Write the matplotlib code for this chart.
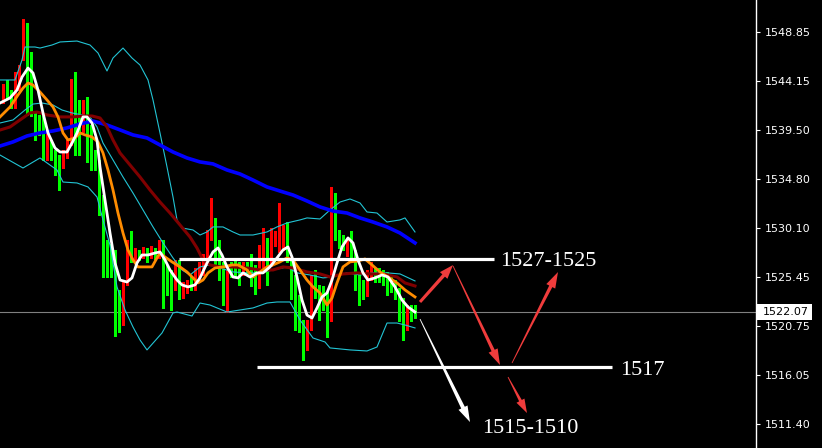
import numpy as np
import matplotlib.pyplot as plt
from matplotlib.patches import Polygon, Rectangle

# candles (price), red = up, green = down
opens = [1542.4, 1543.8, 1542.8, 1542.4, 1544.0, 1546.6, 1549.0, 1546.7, 1540.7, 1540.5,
         1540.0, 1536.9, 1537.6, 1537.1, 1536.6, 1536.2, 1537.1, 1538.5, 1542.9, 1541.9,
         1539.7, 1541.8, 1539.5, 1536.8, 1536.2, 1532.8, 1528.6, 1528.3, 1527.4, 1522.4,
         1521.8, 1525.0, 1528.7, 1527.3, 1527.7, 1527.5, 1527.7, 1527.5, 1527.7, 1527.5,
         1528.8, 1525.2, 1524.9, 1524.7, 1526.8, 1523.7, 1524.2, 1524.9, 1524.5, 1525.4,
         1525.9, 1527.3, 1529.3, 1530.1, 1527.4, 1525.9, 1524.2, 1526.4, 1526.2, 1526.3,
         1525.9, 1526.3, 1526.1, 1525.8, 1524.7, 1526.9, 1527.8, 1526.9, 1528.8, 1528.2,
         1528.5, 1529.9, 1526.9, 1524.9, 1523.0, 1520.6, 1518.8, 1520.7, 1525.4, 1523.9,
         1524.0, 1523.4, 1521.5, 1530.4, 1529.7, 1529.0, 1527.7, 1529.0, 1527.7, 1525.2,
         1524.7, 1523.9, 1525.5, 1525.8, 1525.7, 1525.6, 1525.4, 1525.2, 1524.9, 1523.9,
         1522.8, 1521.1, 1522.1, 1522.2]
highs = [1543.9, 1544.3, 1543.3, 1545.0, 1545.7, 1550.1, 1549.7, 1546.9, 1541.2, 1540.9,
         1541.1, 1539.5, 1538.5, 1537.6, 1537.1, 1537.6, 1538.5, 1544.4, 1545.0, 1542.4,
         1542.4, 1542.6, 1540.0, 1537.6, 1536.6, 1533.3, 1529.0, 1528.6, 1528.0, 1524.2,
         1525.2, 1529.0, 1529.8, 1528.2, 1528.0, 1528.3, 1528.2, 1528.4, 1528.2, 1529.0,
         1529.0, 1526.6, 1526.1, 1527.1, 1527.1, 1525.0, 1525.2, 1525.4, 1526.3, 1526.9,
         1527.6, 1529.9, 1533.0, 1531.1, 1529.0, 1526.9, 1526.1, 1526.9, 1527.1, 1526.9,
         1526.9, 1526.9, 1527.6, 1526.6, 1528.5, 1530.1, 1529.2, 1530.1, 1529.8, 1532.5,
         1530.4, 1530.7, 1527.3, 1525.6, 1523.7, 1521.3, 1521.3, 1525.6, 1526.1, 1524.7,
         1524.6, 1524.0, 1534.0, 1533.5, 1529.9, 1529.5, 1529.0, 1529.8, 1528.0, 1525.9,
         1525.2, 1526.1, 1526.9, 1526.3, 1526.3, 1526.1, 1525.9, 1525.6, 1525.2, 1524.4,
         1523.4, 1522.8, 1522.8, 1522.8]
lows = [1542.1, 1542.5, 1541.6, 1541.6, 1543.3, 1546.2, 1540.9, 1540.8, 1538.5, 1539.0,
        1536.6, 1536.6, 1536.6, 1535.2, 1533.8, 1535.9, 1536.8, 1538.1, 1537.1, 1537.1,
        1539.3, 1536.4, 1535.7, 1535.7, 1531.4, 1525.4, 1525.4, 1525.4, 1519.8, 1520.2,
        1520.9, 1524.7, 1526.9, 1526.9, 1527.1, 1527.3, 1526.9, 1527.3, 1527.2, 1527.3,
        1522.5, 1523.7, 1522.3, 1524.2, 1523.3, 1523.4, 1523.9, 1524.2, 1524.2, 1525.0,
        1525.6, 1526.9, 1529.0, 1526.3, 1525.2, 1522.8, 1522.1, 1525.4, 1525.4, 1524.7,
        1525.6, 1525.6, 1524.6, 1523.8, 1524.4, 1526.3, 1524.7, 1526.5, 1528.4, 1527.8,
        1528.0, 1526.9, 1523.3, 1520.4, 1520.2, 1517.5, 1518.5, 1520.4, 1523.4, 1521.3,
        1522.3, 1519.7, 1521.2, 1529.0, 1528.2, 1528.0, 1527.5, 1527.3, 1524.2, 1522.8,
        1523.3, 1523.6, 1525.2, 1525.0, 1525.0, 1524.7, 1523.7, 1524.0, 1523.3, 1521.2,
        1519.4, 1520.4, 1521.2, 1521.5]
closes = [1543.6, 1542.8, 1541.9, 1544.0, 1545.0, 1549.1, 1541.2, 1541.2, 1539.9, 1539.8,
          1536.9, 1539.0, 1537.0, 1536.2, 1536.2, 1537.1, 1538.3, 1542.9, 1541.4, 1540.3,
          1541.8, 1536.8, 1536.0, 1536.2, 1531.9, 1528.5, 1528.2, 1527.3, 1522.4, 1521.5,
          1525.0, 1528.7, 1527.3, 1527.7, 1527.4, 1527.8, 1527.5, 1527.8, 1527.5, 1528.8,
          1525.0, 1524.9, 1524.6, 1526.8, 1523.5, 1524.7, 1524.9, 1524.5, 1525.9, 1526.4,
          1527.3, 1529.5, 1530.2, 1526.8, 1526.4, 1523.3, 1525.2, 1525.9, 1525.9, 1525.5,
          1526.3, 1525.9, 1525.7, 1524.0, 1526.9, 1528.0, 1525.8, 1529.0, 1529.3, 1529.9,
          1529.9, 1527.1, 1524.7, 1523.0, 1520.6, 1518.8, 1520.9, 1525.4, 1523.9, 1523.3,
          1523.4, 1520.1, 1530.4, 1529.5, 1528.7, 1528.7, 1528.7, 1527.7, 1525.8, 1524.5,
          1524.4, 1525.6, 1526.3, 1525.5, 1525.4, 1525.2, 1524.7, 1524.4, 1523.9, 1522.6,
          1521.1, 1522.5, 1521.5, 1522.07]

# indicator lines (bar index, price)
white_x = [-0.75, 1.75, 3.5, 4.75, 6.25, 7.5, 8.75, 10, 11.25, 13, 14.25, 16, 17.25, 18.5, 20, 21,
           22.25, 23.5, 24.25, 25.5, 26.75, 28, 29.25, 31, 32.25, 33.5, 34.75, 36.25, 38, 39.25,
           40.5, 41.75, 43.5, 44.75, 46.25, 48, 49.25, 51, 52.5, 53.75, 54.75, 56, 57.5, 58.75,
           60, 61.75, 63.5, 65, 66.75, 68.5, 70, 71.25, 72.25, 73.5, 74.75, 76, 77.25, 78.5,
           79.75, 81, 82.25, 83.5, 84.75, 86.25, 87.5, 88.75, 90, 91.25, 93, 94.75, 96.25, 98,
           99.75, 101.25, 103]
white_y = [1542.07, 1542.55, 1543.31, 1544.55, 1545.41, 1544.94, 1543.31, 1541.12, 1539.21,
           1537.77, 1537.39, 1537.39, 1538.25, 1539.21, 1540.74, 1540.74, 1540.16, 1538.54,
           1535.96, 1532.80, 1529.65, 1526.79, 1525.16, 1524.97, 1525.36, 1526.79, 1527.55,
           1527.55, 1527.74, 1527.84, 1527.08, 1526.12, 1525.16, 1524.69, 1524.50, 1524.69,
           1525.36, 1526.79, 1527.84, 1528.22, 1527.55, 1526.41, 1525.45, 1525.36, 1525.84,
           1525.45, 1525.84, 1525.84, 1526.41, 1527.27, 1528.03, 1528.32, 1527.36, 1525.45,
           1523.25, 1521.81, 1521.53, 1522.49, 1523.54, 1523.92, 1525.16, 1526.79, 1528.32,
           1529.18, 1528.70, 1527.08, 1525.84, 1525.16, 1525.36, 1525.64, 1525.45, 1524.50,
           1523.25, 1522.58, 1522.10]
orange_x = [-0.75, 1.75, 3.75, 5, 6.25, 7.5, 9.25, 11, 12.5, 13.75, 15, 16.25, 18, 19.25, 20.5,
            22.25, 23.75, 25, 26.25, 27.5, 28.75, 30, 31.25, 32.5, 33.75, 36, 37.25, 38.5,
            39.25, 40.5, 42.25, 44.25, 46, 47.5, 48.75, 50, 51.25, 53, 55, 57.25, 58.75, 61,
            62.5, 64.25, 66, 67.5, 69.25, 71, 72.5, 74.25, 76, 77.5, 79.25, 81, 82.25, 83.5,
            85, 86.75, 88.75, 90.5, 92.25, 94.25, 96.25, 98.5, 100.5, 103]
orange_y = [1540.74, 1541.69, 1542.83, 1543.50, 1543.98, 1543.79, 1543.12, 1542.36, 1541.69,
            1540.74, 1539.21, 1538.54, 1538.73, 1539.21, 1539.02, 1538.83, 1538.35, 1537.30,
            1535.67, 1533.76, 1531.56, 1529.65, 1528.03, 1527.08, 1526.41, 1526.41, 1526.41,
            1527.27, 1527.74, 1527.36, 1526.89, 1526.41, 1525.93, 1525.36, 1524.88, 1525.16,
            1525.84, 1526.31, 1526.41, 1526.60, 1526.60, 1526.12, 1525.45, 1525.93, 1526.41,
            1526.60, 1526.89, 1527.27, 1527.08, 1526.12, 1525.16, 1524.50, 1523.92, 1522.77,
            1523.44, 1524.88, 1526.41, 1526.89, 1526.98, 1527.17, 1526.60, 1525.93, 1525.45,
            1524.88, 1524.21, 1523.54]
maroon_x = [-0.75, 1.75, 4.25, 6.75, 8.5, 11, 14.25, 17.5, 20, 22.25, 24.25, 26, 27.5, 29.25,
            31.75, 34.25, 36.75, 39.25, 41.75, 44.25, 46.75, 48.5, 50, 51.75, 54.25, 57.5, 61,
            64.25, 67.5, 70, 72.5, 76, 79.25, 81.75, 85, 88.5, 91.75, 95, 98.5, 100.5, 103]
maroon_y = [1539.49, 1539.78, 1540.45, 1541.12, 1541.21, 1540.93, 1540.74, 1540.74, 1540.83,
            1540.83, 1540.64, 1539.78, 1538.54, 1537.30, 1536.15, 1535.00, 1533.76, 1532.61,
            1531.56, 1530.42, 1529.27, 1528.22, 1527.08, 1526.60, 1526.41, 1526.41, 1526.31,
            1526.12, 1526.12, 1526.41, 1526.31, 1525.93, 1525.74, 1525.45, 1525.74, 1525.84,
            1525.74, 1525.74, 1525.45, 1524.88, 1524.59]
blue_x = [-0.75, 2.5, 6, 9.25, 12.5, 16, 19.25, 22.5, 26, 29.25, 32.5, 36, 39.25, 42.5, 46,
          49.25, 52.5, 56, 59.25, 62.5, 66, 69.25, 72.5, 76, 79.25, 82.5, 86, 89.25, 92.5, 96,
          99.25, 103]
blue_y = [1537.96, 1538.35, 1538.92, 1539.21, 1539.40, 1539.69, 1540.07, 1540.35, 1539.97,
          1539.50, 1539.02, 1538.73, 1538.06, 1537.39, 1536.82, 1536.44, 1536.25, 1535.67,
          1535.29, 1534.71, 1534.05, 1533.66, 1533.28, 1532.71, 1532.14, 1531.75, 1531.56,
          1531.09, 1530.70, 1530.23, 1529.65, 1528.70]
upper_x = [-0.75, 3, 4.75, 5.5, 8, 9.25, 12.25, 14.25, 18.5, 21.75, 23.75, 26, 27.5, 30, 32.25,
           34.25, 36.25, 37.5, 39.25, 41, 42.5, 43.5, 44.75, 47.5, 49.25, 51, 52.5, 55, 57.5,
           59.25, 62.5, 66, 68.5, 71, 74.25, 76, 79.25, 81.75, 84.25, 86.75, 89.25, 91, 93.5,
           96, 99.25, 100.5, 103]
upper_y = [1544.27, 1544.27, 1546.18, 1547.42, 1547.42, 1547.32, 1547.61, 1547.90, 1547.99,
           1547.61, 1546.85, 1545.13, 1546.37, 1547.32, 1546.37, 1545.70, 1544.27, 1542.36,
           1539.21, 1535.96, 1533.09, 1530.90, 1530.13, 1529.94, 1529.46, 1529.75, 1530.23,
           1530.23, 1529.75, 1529.46, 1529.46, 1529.75, 1530.23, 1530.61, 1530.90, 1531.09,
           1530.99, 1531.85, 1532.61, 1532.90, 1532.52, 1531.66, 1531.56, 1530.70, 1530.90,
           1531.09, 1529.75]
mid_x = [-0.75, 2.5, 5.5, 7.5, 9.75, 12.5, 14.75, 17.25, 19.75, 21.75, 23.5, 25, 27.5, 30,
         32.5, 35, 37.5, 40, 42.5, 44.75, 46.75, 49.25, 51.75, 54.25, 57.5, 61, 64.25, 67.5,
         71, 73.5, 76.75, 80, 82.5, 86, 89.25, 92.5, 96, 99.25, 103]
mid_y = [1540.16, 1540.45, 1541.40, 1541.97, 1542.07, 1541.88, 1541.40, 1541.12, 1540.93,
         1540.74, 1539.78, 1538.25, 1536.63, 1535.00, 1533.47, 1531.85, 1530.23, 1528.70,
         1527.27, 1526.12, 1525.64, 1526.41, 1526.60, 1526.31, 1525.93, 1525.84, 1525.84,
         1526.12, 1526.41, 1525.84, 1525.64, 1525.36, 1525.45, 1525.84, 1525.64, 1525.84,
         1525.84, 1525.74, 1525.07]
lower_x = [-0.75, 5, 9.25, 13.5, 15, 18.5, 21.25, 23.5, 25, 26.75, 28.5, 30.5, 32.5, 34.25,
           36, 39.75, 42.5, 43.5, 47.25, 49.25, 51.75, 56, 62.5, 66, 68.5, 71.75, 74.25, 77.5,
           80.5, 81.75, 86.75, 91, 93.5, 96, 98.5, 100.5, 103]
lower_y = [1537.10, 1535.86, 1536.82, 1535.67, 1534.52, 1534.43, 1534.05, 1533.09, 1530.90,
           1528.50, 1524.50, 1522.30, 1520.67, 1519.43, 1518.48, 1520.10, 1522.01, 1522.10,
           1521.72, 1522.96, 1522.77, 1522.10, 1522.49, 1522.96, 1523.06, 1523.06, 1521.34,
           1519.62, 1519.24, 1518.67, 1518.48, 1518.38, 1518.76, 1521.05, 1521.05, 1520.86,
           1520.58]

yticks = [1548.85, 1544.15, 1539.50, 1534.80, 1530.10, 1525.45, 1520.75, 1516.05, 1511.40]
last_price = 1522.07
levels = [1527.2, 1516.85]

fig = plt.figure(figsize=(8.22, 4.48), dpi=100, facecolor='black')
ax = fig.add_axes([0, 0, 756 / 822, 1])
ax.set_facecolor('black')
ax.set_xlim(-0.75, 188.25)
ax.set_ylim(1509.11, 1551.91)

o, h, l, c = map(np.array, (opens, highs, lows, closes))
idx = np.arange(len(o))
cols = np.where(c >= o, '#ff0000', '#00ff00')

ax.axhline(last_price, color='#808080', lw=0.8, zorder=1)
ax.vlines(idx, l, h, colors=cols, lw=1.0, zorder=2, antialiased=False)
ax.bar(idx, np.maximum(np.abs(c - o), 0.15), bottom=np.minimum(o, c), width=0.68,
       color=cols, lw=0, zorder=2, antialiased=False)

cyan = '#22c4d4'
ax.plot(upper_x, upper_y, color=cyan, lw=0.8, zorder=3)
ax.plot(mid_x, mid_y, color=cyan, lw=0.8, zorder=3)
ax.plot(lower_x, lower_y, color=cyan, lw=0.8, zorder=3)
ax.plot(blue_x, blue_y, color='#0000ff', lw=2.6, zorder=3)
ax.plot(maroon_x, maroon_y, color='#800000', lw=2.2, zorder=3)
ax.plot(orange_x, orange_y, color='#ff8c00', lw=2.0, zorder=3)
ax.plot(white_x, white_y, color='white', lw=2.0, zorder=3)

# support / resistance
ax.hlines(levels[0], 44, 122.75, colors='white', lw=2.3, zorder=4)
ax.hlines(levels[1], 63.5, 152.25, colors='white', lw=2.3, zorder=4)
tfont = dict(family='Liberation Serif', fontsize=16, color='white', va='center', zorder=5)
ax.text(124.25, 1526.88, '1527-1525', **tfont)
ax.text(154.25, 1516.56, '1517', **tfont)
ax.text(119.75, 1511.02, '1515-1510', **tfont)


def arrow(x0, y0, x1, y1, color, w0, w1, hw=10, hl=15):
    p0 = ax.transData.transform((x0, y0))
    p1 = ax.transData.transform((x1, y1))
    d = p1 - p0
    u = d / np.hypot(*d)
    n = np.array([-u[1], u[0]])
    pb = p1 - u * hl
    pts = [p0 + n * w0 / 2, pb + n * w1 / 2, pb + n * hw / 2, p1,
           pb - n * hw / 2, pb - n * w1 / 2, p0 - n * w0 / 2]
    ax.add_patch(Polygon(pts, closed=True, transform=None, facecolor=color,
                         edgecolor='none', zorder=5))


red = '#f03c3c'
arrow(104.25, 1523.06, 112.5, 1526.59, red, 3, 3.5, 10, 14)
arrow(112.5, 1526.5, 124.25, 1517.04, red, 0.8, 3.5, 10, 16)
arrow(127.25, 1517.23, 138.75, 1525.92, red, 0.8, 3.5, 10, 16)
arrow(126.25, 1515.89, 131, 1512.45, red, 0.8, 3, 9, 14)
arrow(104.25, 1521.43, 116.75, 1511.59, 'white', 0.8, 4, 10, 16)

# right price scale
for s in ['left', 'top', 'bottom']:
    ax.spines[s].set_visible(False)
ax.spines['right'].set_color('white')
ax.spines['right'].set_linewidth(1)
ax.set_xticks([])
ax.yaxis.tick_right()
ax.set_yticks(yticks)
ax.set_yticklabels(['%.2f' % v for v in yticks])
ax.tick_params(axis='y', colors='white', labelcolor='white', labelsize=8, length=3,
               width=0.8, pad=3)

fig.patches.append(Rectangle((757 / 822, (448 - 320) / 448), 55 / 822, 16 / 448,
                             transform=fig.transFigure, facecolor='white',
                             edgecolor='none', zorder=5))
fig.text(763 / 822, (448 - 312) / 448, '%.2f' % last_price, fontsize=8, color='black',
         va='center', ha='left', zorder=6)

fig.savefig('out.png', dpi=100, facecolor='black')
